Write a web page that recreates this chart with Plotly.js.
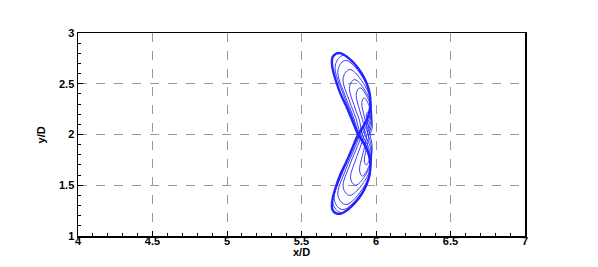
<!DOCTYPE html>
<html>
<head>
<meta charset="utf-8">
<script src="https://cdn.plot.ly/plotly-3.0.1.min.js"></script>
<style>html,body{margin:0;padding:0;background:#fff;}#chart{width:598px;height:267px;}</style>
</head>
<body>
<div id="chart"></div>
<script>
// Transient trajectory (thin loops growing toward the limit cycle)
const transientX = [
  5.985, 5.975,
  5.962, 5.973, 5.975, 5.966, 5.944, 5.935, 5.944, 5.953,
  5.958, 5.971, 5.974, 5.963, 5.934, 5.922, 5.934, 5.945,
  5.952, 5.969, 5.9725, 5.958, 5.921, 5.905, 5.921, 5.936,
  5.946, 5.967, 5.971, 5.954, 5.909, 5.890, 5.909, 5.927,
  5.939, 5.965, 5.970, 5.949, 5.892, 5.868, 5.892, 5.914,
  5.926, 5.962, 5.969, 5.940, 5.863, 5.830, 5.863, 5.893,
  5.923, 5.960, 5.968, 5.938, 5.857, 5.823, 5.857, 5.889,
  5.908, 5.956, 5.966, 5.927, 5.824, 5.780, 5.824, 5.864,
  5.908, 5.955, 5.965, 5.926, 5.824, 5.780, 5.824, 5.864,
  5.896, 5.952, 5.963, 5.918, 5.797, 5.745, 5.797, 5.844,
  5.895, 5.951, 5.962, 5.917, 5.797, 5.745, 5.797, 5.844,
  5.887, 5.949, 5.961, 5.911, 5.777, 5.720, 5.777, 5.829,
  5.888, 5.948, 5.960, 5.911, 5.782, 5.727, 5.782, 5.833,
  5.882, 5.946, 5.959, 5.907, 5.769, 5.710, 5.769, 5.823,
  5.880
];
const transientY = [
  2.000, 2.000,
  2.000, 2.055, 2.110, 2.165, 2.220, 2.193, 2.110, 2.057,
  2.000, 1.925, 1.850, 1.775, 1.700, 1.738, 1.850, 1.922,
  2.000, 2.090, 2.180, 2.270, 2.360, 2.315, 2.180, 2.094,
  2.000, 1.897, 1.795, 1.692, 1.590, 1.641, 1.795, 1.893,
  2.000, 2.115, 2.230, 2.345, 2.460, 2.403, 2.230, 2.120,
  2.000, 1.875, 1.750, 1.625, 1.500, 1.563, 1.750, 1.870,
  2.000, 2.135, 2.270, 2.405, 2.540, 2.473, 2.270, 2.140,
  2.000, 1.850, 1.700, 1.550, 1.400, 1.475, 1.700, 1.844,
  2.000, 2.160, 2.320, 2.480, 2.640, 2.560, 2.320, 2.166,
  2.000, 1.828, 1.655, 1.483, 1.310, 1.396, 1.655, 1.821,
  2.000, 2.183, 2.365, 2.548, 2.730, 2.639, 2.365, 2.190,
  2.000, 1.815, 1.630, 1.445, 1.260, 1.353, 1.630, 1.808,
  2.000, 2.195, 2.390, 2.585, 2.780, 2.683, 2.390, 2.203,
  2.000, 1.808, 1.615, 1.423, 1.230, 1.326, 1.615, 1.800,
  2.000
];
// Limit cycle (thick figure-eight)
const limitX = [
  5.880, 5.922, 5.952, 5.962, 5.958, 5.938, 5.905, 5.860, 5.810, 5.765, 5.730, 5.708, 5.704, 5.713, 5.733, 5.762, 5.800, 5.840,
  5.880, 5.922, 5.952, 5.962, 5.958, 5.938, 5.905, 5.860, 5.810, 5.765, 5.730, 5.708, 5.704, 5.713, 5.733, 5.762, 5.800, 5.840,
  5.880
];
const limitY = [
  2.000, 2.100, 2.200, 2.300, 2.400, 2.500, 2.600, 2.690, 2.760, 2.800, 2.795, 2.760, 2.700, 2.620, 2.520, 2.400, 2.280, 2.140,
  2.000, 1.902, 1.805, 1.708, 1.610, 1.512, 1.415, 1.327, 1.259, 1.220, 1.225, 1.259, 1.318, 1.396, 1.493, 1.610, 1.727, 1.863,
  2.000
];
const xTickVals = [4, 4.5, 5, 5.5, 6, 6.5, 7];
const xTickText = ['4', '4.5', '5', '5.5', '6', '6.5', '7'];
const yTickVals = [1, 1.5, 2, 2.5, 3];
const yTickText = ['1', '1.5', '2', '2.5', '3'];
const xTitle = 'x/D';
const yTitle = 'y/D';

const lineColor = 'rgb(35,35,255)';
const traces = [
  {x: transientX, y: transientY, type: 'scatter', mode: 'lines',
   line: {color: lineColor, width: 0.9, shape: 'spline', smoothing: 1.1}, hoverinfo: 'skip'},
  {x: limitX, y: limitY, type: 'scatter', mode: 'lines',
   line: {color: lineColor, width: 2.4, shape: 'spline', smoothing: 1.0}, hoverinfo: 'skip'}
];
const fam = 'Liberation Sans, Arial, sans-serif';
const tickFont = {family: fam, size: 11, color: '#000', weight: 700};
const axisCommon = {
  showline: true, linecolor: '#000', linewidth: 1.5, mirror: true,
  ticks: 'inside', ticklen: 5, tickwidth: 1, tickcolor: '#000',
  showgrid: true, gridcolor: '#999', griddash: 'dash', gridwidth: 1,
  zeroline: false, tickfont: tickFont, tickmode: 'array',
  minor: {ticks: 'inside', dtick: 0.1, ticklen: 3, tickwidth: 1, tickcolor: '#000', showgrid: false}
};
const layout = {
  width: 598, height: 267,
  margin: {l: 78, r: 73, t: 33, b: 31, pad: 0},
  paper_bgcolor: '#fff', plot_bgcolor: '#fff',
  showlegend: false,
  xaxis: Object.assign({}, axisCommon, {
    range: [4, 7], tickvals: xTickVals, ticktext: xTickText, ticklabelstandoff: -6
  }),
  yaxis: Object.assign({}, axisCommon, {
    range: [1, 3], tickvals: yTickVals, ticktext: yTickText
  }),
  annotations: [
    {text: xTitle, xref: 'paper', yref: 'paper', x: 0.5, y: -0.078, xanchor: 'center', yanchor: 'middle',
     showarrow: false, font: {family: fam, size: 11, color: '#000', weight: 700}},
    {text: yTitle, xref: 'paper', yref: 'paper', x: -0.083, y: 0.5, xanchor: 'center', yanchor: 'middle',
     textangle: -90, showarrow: false, font: {family: fam, size: 11, color: '#000', weight: 700}}
  ]
};
Plotly.newPlot('chart', traces, layout, {staticPlot: true, displayModeBar: false});
</script>
</body>
</html>
